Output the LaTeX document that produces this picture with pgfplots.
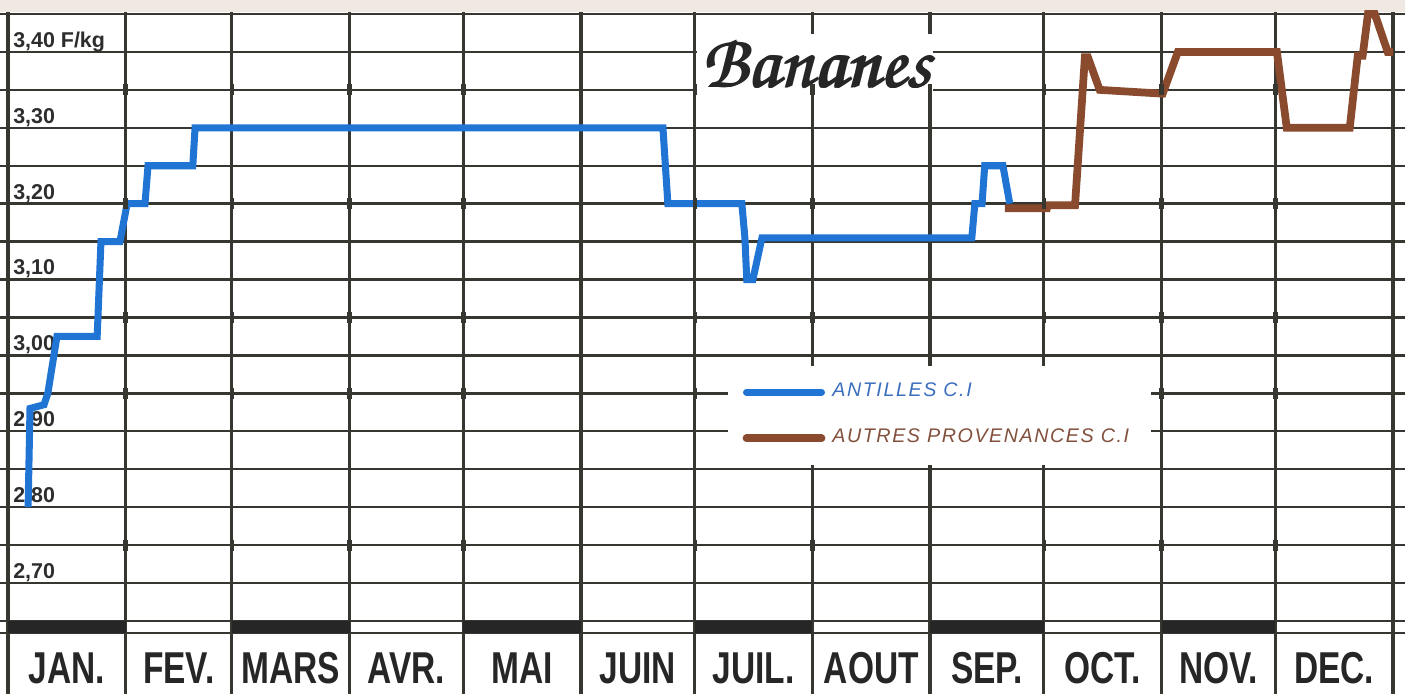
\documentclass[border=0pt]{standalone}
\usepackage[T1,TU]{fontenc}
\usepackage{fontspec}
\usepackage{graphicx}
\usepackage{pgfplots}
\pgfplotsset{compat=1.18}
\setmainfont{Liberation Sans}
\newfontfamily\legfont[LetterSpace=8]{Liberation Sans}
\definecolor{gridc}{RGB}{55,55,50}
\definecolor{antilles}{RGB}{31,116,212}
\definecolor{autres}{RGB}{138,74,45}
\definecolor{legblue}{RGB}{60,110,190}
\definecolor{legbrown}{RGB}{130,80,60}
\definecolor{tickc}{RGB}{45,45,45}
\definecolor{beige}{RGB}{240,232,226}
\newcommand{\mois}[1]{\scalebox{0.75}[1]{\bfseries #1}}
\newcommand{\titre}{\fontencoding{T1}\fontfamily{pzc}\selectfont\fontsize{21.5}{24}\selectfont Bananes}
\tikzset{
  tlab/.style={anchor=base west, inner sep=0pt, text=tickc, font=\bfseries\fontsize{6.1}{6}\selectfont},
  mlab/.style={anchor=base, inner sep=0pt, text=black!85, font=\fontsize{12.7}{13}\selectfont},
  bar/.style={fill=black!85},
  ttl/.style={inner sep=1pt, text=black!85},
}
\begin{document}
\begin{tikzpicture}
\begin{axis}[
  width=14.05cm, height=6.94cm, scale only axis,
  xmin=-2.108, xmax=368.16, ymin=2.5537, ymax=3.4685,
  axis line style={draw=none},
  xtick={0,31,59,90,120,151,181,212,243,273,304,334,365},
  ytick={2.634,2.65,2.70,2.75,2.80,2.85,2.90,2.95,3.00,3.05,3.10,3.15,3.20,3.25,3.30,3.35,3.40,3.45},
  xticklabels={}, yticklabels={},
  major tick length=0pt,
  xmajorgrids, ymajorgrids,
  x grid style={gridc, line width=0.9pt},
  y grid style={gridc, line width=0.7pt},
  legend style={at={(0.5174,0.474)}, anchor=north west, draw=none, fill=white,
    inner xsep=1.5mm, inner ysep=1.0mm, row sep=1.3mm,
    font=\legfont\itshape\fontsize{5.6}{6}\selectfont},
  legend cell align=left,
  legend image code/.code={\draw[#1, line cap=round] (0mm,0mm) -- (7.5mm,0mm);},
]
% bandeau du haut
\fill[beige] (axis cs:-2.108,3.452) rectangle (axis cs:368.16,3.4685);
% barres noires des mois
\fill[bar] (axis cs:0,2.634) rectangle (axis cs:31,2.65);
\fill[bar] (axis cs:59,2.634) rectangle (axis cs:90,2.65);
\fill[bar] (axis cs:120,2.634) rectangle (axis cs:151,2.65);
\fill[bar] (axis cs:181,2.634) rectangle (axis cs:212,2.65);
\fill[bar] (axis cs:243,2.634) rectangle (axis cs:273,2.65);
\fill[bar] (axis cs:304,2.634) rectangle (axis cs:334,2.65);
% petites croix sur certaines lignes
\addplot[forget plot, only marks, mark=|, mark size=0.55mm, gridc, mark options={line width=1.3pt}] coordinates {
  (31,3.35) (59,3.35) (90,3.35) (120,3.35) (151,3.35) (181,3.35) (212,3.35) (243,3.35) (273,3.35) (304,3.35) (334,3.35)
  (31,3.20) (59,3.20) (90,3.20) (120,3.20) (151,3.20) (181,3.20) (212,3.20) (243,3.20) (273,3.20) (304,3.20) (334,3.20)
  (31,3.05) (59,3.05) (90,3.05) (120,3.05) (151,3.05) (181,3.05) (212,3.05) (243,3.05) (273,3.05) (304,3.05) (334,3.05)
  (31,2.95) (59,2.95) (90,2.95) (120,2.95) (151,2.95) (181,2.95) (212,2.95) (243,2.95) (273,2.95) (304,2.95) (334,2.95)
  (31,2.75) (59,2.75) (90,2.75) (120,2.75) (151,2.75) (181,2.75) (212,2.75) (243,2.75) (273,2.75) (304,2.75) (334,2.75)
};
% titre (un peu epaissi)
\node[ttl, fill=white] at (axis cs:212.7,3.385) {\titre};
\node[ttl, xshift=0.35pt] at (axis cs:212.7,3.385) {\titre};
\node[ttl, xshift=0.7pt] at (axis cs:212.7,3.385) {\titre};
\node[ttl, yshift=0.3pt, xshift=0.35pt] at (axis cs:212.7,3.385) {\titre};
% graduations
\node[tlab] at (axis cs:1.2,3.406) {3,40 F/kg};
\node[tlab] at (axis cs:1.2,3.306) {3,30};
\node[tlab] at (axis cs:1.2,3.206) {3,20};
\node[tlab] at (axis cs:1.2,3.106) {3,10};
\node[tlab] at (axis cs:1.2,3.006) {3,00};
\node[tlab] at (axis cs:1.2,2.906) {2,90};
\node[tlab] at (axis cs:1.2,2.806) {2,80};
\node[tlab] at (axis cs:1.2,2.706) {2,70};
% mois
\node[mlab] at (axis cs:15.5,2.568) {\mois{JAN.}};
\node[mlab] at (axis cs:45,2.568) {\mois{FEV.}};
\node[mlab] at (axis cs:74.5,2.568) {\mois{MARS}};
\node[mlab] at (axis cs:105,2.568) {\mois{AVR.}};
\node[mlab] at (axis cs:135.5,2.568) {\mois{MAI}};
\node[mlab] at (axis cs:166,2.568) {\mois{JUIN}};
\node[mlab] at (axis cs:196.5,2.568) {\mois{JUIL.}};
\node[mlab] at (axis cs:227.5,2.568) {\mois{AOUT}};
\node[mlab] at (axis cs:258,2.568) {\mois{SEP.}};
\node[mlab] at (axis cs:288.5,2.568) {\mois{OCT.}};
\node[mlab] at (axis cs:319,2.568) {\mois{NOV.}};
\node[mlab] at (axis cs:349.5,2.568) {\mois{DEC.}};
\addplot[antilles, line width=2pt] coordinates {
  (5.3,2.80) (5.8,2.93) (9.5,2.935) (10.5,2.95) (12.9,3.025) (23.5,3.025)
  (24.5,3.15) (29.5,3.15) (31.4,3.20) (36.1,3.20) (36.9,3.25) (48.7,3.25)
  (49.3,3.30) (172.6,3.30) (173.9,3.20) (193.4,3.20) (194.2,3.155)
  (194.7,3.10) (196.3,3.10) (198.7,3.155) (254,3.155) (254.8,3.20)
  (256.7,3.20) (257.4,3.25) (262.2,3.25) (264,3.20)
};
\addlegendentry{\textcolor{legblue}{ANTILLES C.I}}
\addplot[autres, line width=2.2pt] coordinates {
  (262.7,3.194) (273.8,3.194) (274,3.198) (281.2,3.198) (283.8,3.393)
  (284.6,3.393) (287.7,3.35) (304.3,3.345) (308.3,3.40) (334.4,3.40)
  (337,3.30) (353.6,3.30) (355.7,3.395) (357,3.395) (358.4,3.45)
  (360.2,3.45) (363.6,3.40) (365,3.40)
};
\addlegendentry{\textcolor{legbrown}{AUTRES PROVENANCES C.I}}
\end{axis}
\pgfresetboundingbox
\path[use as bounding box] (current axis.south west) rectangle (current axis.north east);
\end{tikzpicture}
\end{document}
